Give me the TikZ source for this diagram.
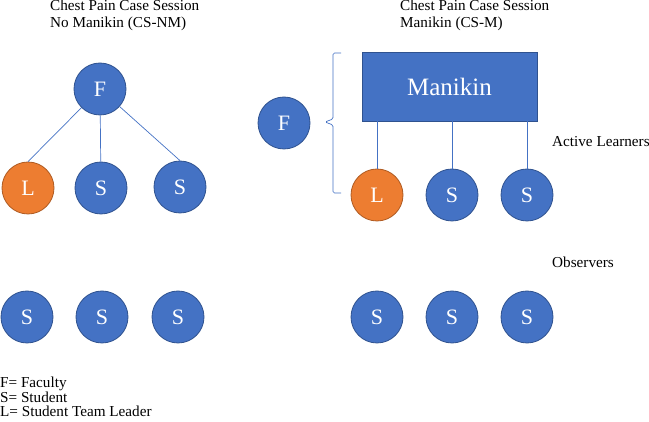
\documentclass[tikz,border=0pt]{standalone}
\usepackage{fontspec}
\setmainfont{Liberation Serif}
\usetikzlibrary{positioning}
\definecolor{roleblue}{HTML}{4472C4}
\definecolor{roleedge}{HTML}{2F528F}
\definecolor{leadorange}{HTML}{ED7D31}
\definecolor{leadedge}{HTML}{AE5A21}
\begin{document}
\begin{tikzpicture}[x=1pt,y=-1pt,
    role/.style={circle, draw=roleedge, fill=roleblue, line width=0.8pt,
      minimum size=52pt, inner sep=0pt, text=white,
      font=\fontsize{22}{26}\selectfont},
    lead/.style={role, draw=leadedge, fill=leadorange},
    label/.style={font=\fontsize{15.2}{17}\selectfont, inner sep=0pt, anchor=base west},
    link/.style={roleblue, line width=0.7pt}]
    \useasboundingbox (0,0) rectangle (649,422);
    % session without manikin
    \node[label] (T1) at (50,11) {Chest Pain Case Session};
    \node[label] (T1b) at (50,28) {No Manikin (CS-NM)};
    \node[role] (F1) at (100,89) {F};
    \node[lead] (L1) at (28,188) {L};
    \node[role] (S1) at (101,188) {S};
    \node[role] (S2) at (180,187) {S};
    \draw[link] (F1) -- (L1.north);
    \draw[link] (F1) -- (S1);
    \draw[link] (F1) -- (S2.north);
    \node[role] (O1) at (27,317) {S};
    \node[role] (O2) at (102,317) {S};
    \node[role] (O3) at (178,317) {S};
    % session with manikin
    \node[label] (T2) at (400,11) {Chest Pain Case Session};
    \node[label] (T2b) at (400,28) {Manikin (CS-M)};
    \node[rectangle, draw=roleedge, fill=roleblue, line width=0.8pt,
      minimum width=175pt, minimum height=69pt, text=white,
      font=\fontsize{25}{30}\selectfont] (M) at (449.5,86.5) {Manikin};
    \node[role] (F2) at (284,123) {F};
    \node[lead] (L2) at (377,195) {L};
    \node[role] (S3) at (452,195) {S};
    \node[role] (S4) at (527,195) {S};
    \draw[link] (L2.north) -- (L2.north |- M.south);
    \draw[link] (S3.north) -- (S3.north |- M.south);
    \draw[link] (S4.north) -- (S4.north |- M.south);
    \draw[link, rounded corners=1.5pt] (341,53) -- (333,53) -- (333,119) -- (325,122)
      -- (333,125) -- (333,193) -- (341,193);
    \node[role] (O4) at (377,317) {S};
    \node[role] (O5) at (452,317) {S};
    \node[role] (O6) at (527,317) {S};
    \node[label] (A) at (552,147) {Active Learners};
    \node[label] (B) at (552,268) {Observers};
    % key
    \node[label] (K1) at (0,388) {F= Faculty};
    \node[label] (K2) at (0,402.5) {S= Student};
    \node[label] (K3) at (0,417) {L= Student Team Leader};
\end{tikzpicture}
\end{document}
